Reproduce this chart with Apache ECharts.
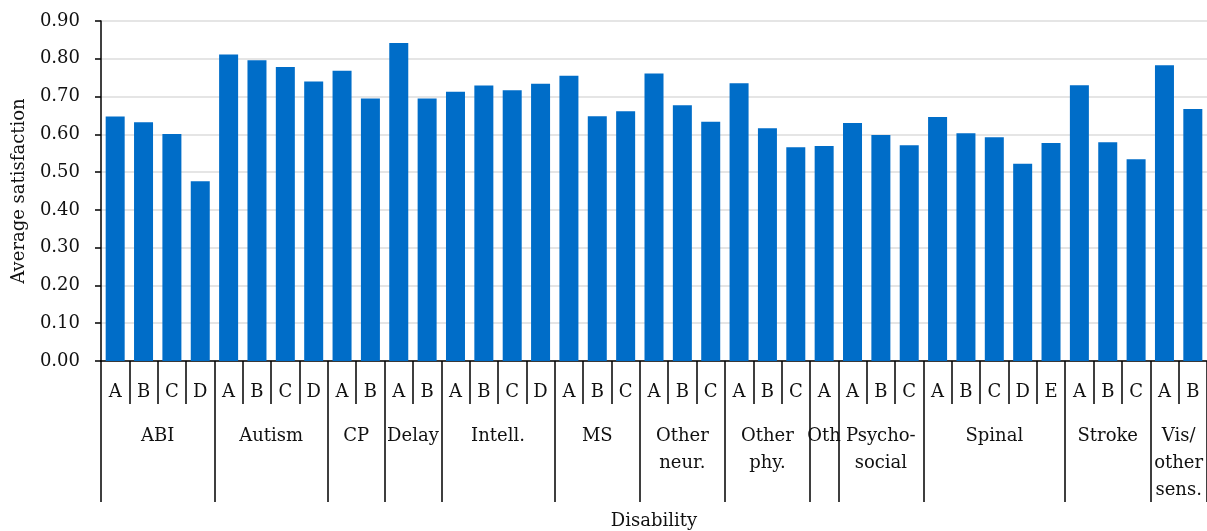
<!DOCTYPE html>
<html>
<head>
<meta charset="utf-8">
<script src="https://cdn.jsdelivr.net/npm/echarts@6/dist/echarts.min.js"></script>
<style>
  html, body { margin: 0; padding: 0; background: #fff; }
  #chart { width: 1207px; height: 531px; }
</style>
</head>
<body>
<div id="chart"></div>
<script>
// Disability groups and how many sub-categories each one holds
const groups = ['ABI', 'Autism', 'CP', 'Delay', 'Intell.', 'MS', 'Other\nneur.', 'Other\nphy.', 'Oth', 'Psycho-\nsocial', 'Spinal', 'Stroke', 'Vis/\nother\nsens.'];
const groupSizes = [4, 4, 2, 2, 4, 3, 3, 3, 1, 3, 5, 3, 2];

// Sub-category labels, one per bar
const subLabels = [
  'A', 'B', 'C', 'D',
  'A', 'B', 'C', 'D',
  'A', 'B',
  'A', 'B',
  'A', 'B', 'C', 'D',
  'A', 'B', 'C',
  'A', 'B', 'C',
  'A', 'B', 'C',
  'A',
  'A', 'B', 'C',
  'A', 'B', 'C', 'D', 'E',
  'A', 'B', 'C',
  'A', 'B'
];

// Average satisfaction per bar
const satisfaction = [
  0.647, 0.632, 0.601, 0.476,
  0.811, 0.796, 0.778, 0.740,
  0.768, 0.695,
  0.842, 0.695,
  0.713, 0.729, 0.717, 0.734,
  0.755, 0.648, 0.661,
  0.761, 0.677, 0.633,
  0.735, 0.616, 0.566,
  0.569,
  0.630, 0.598, 0.571,
  0.646, 0.603, 0.592, 0.522, 0.577,
  0.730, 0.579, 0.534,
  0.783, 0.667
];

// Y-axis tick values
const yTicks = [0, 0.1, 0.2, 0.3, 0.4, 0.5, 0.6, 0.7, 0.8, 0.9];

// Group boundaries and midpoints on a 0..N scale shared with the category axis
const boundaries = [0];
groupSizes.forEach(n => boundaries.push(boundaries[boundaries.length - 1] + n));
const midpoints = groupSizes.map((n, i) => boundaries[i] + n / 2);

const FONT = 'DejaVu Serif';
const textStyle = { fontFamily: FONT, fontSize: 18, color: '#111' };

const chart = echarts.init(document.getElementById('chart'), null, { renderer: 'canvas' });

chart.setOption({
  animation: false,
  backgroundColor: '#fff',
  grid: { left: 101, right: 0, top: 21, bottom: 170, containLabel: false, outerBoundsMode: 'none' },
  xAxis: [
    {
      type: 'category',
      data: subLabels,
      position: 'bottom',
      boundaryGap: true,
      axisLine: { show: true, lineStyle: { color: '#000', width: 1.5 } },
      axisTick: { show: true, length: 43, interval: 0, lineStyle: { color: '#000', width: 1.5 } },
      axisLabel: Object.assign({ interval: 0, margin: 22 }, textStyle),
      splitLine: { show: false }
    },
    {
      type: 'value',
      position: 'bottom',
      min: 0,
      max: subLabels.length,
      name: 'Disability',
      nameLocation: 'middle',
      nameGap: 151,
      nameTextStyle: textStyle,
      axisLine: { show: false },
      axisTick: {
        show: true,
        length: 141,
        customValues: boundaries,
        lineStyle: { color: '#000', width: 1.5 }
      },
      axisLabel: Object.assign({
        customValues: midpoints,
        margin: 62,
        lineHeight: 27,
        align: 'center',
        formatter: function (v) {
          const i = midpoints.findIndex(m => Math.abs(m - v) < 1e-6);
          return i >= 0 ? groups[i] : '';
        }
      }, textStyle),
      splitLine: { show: false }
    }
  ],
  yAxis: {
    type: 'value',
    min: 0,
    max: 0.9,
    interval: 0.1,
    name: 'Average satisfaction',
    nameLocation: 'middle',
    nameGap: 73,
    nameRotate: 90,
    nameTextStyle: textStyle,
    axisLine: { show: true, lineStyle: { color: '#000', width: 1.5 } },
    axisTick: { show: true, inside: false, length: 6, lineStyle: { color: '#000', width: 1.5 } },
    axisLabel: Object.assign({
      margin: 21,
      customValues: yTicks,
      formatter: v => v.toFixed(2)
    }, textStyle),
    splitLine: { show: true, lineStyle: { color: '#dcdcdc', width: 1.5 } }
  },
  series: [
    {
      type: 'bar',
      data: satisfaction,
      barWidth: 19,
      itemStyle: { color: '#006dc8' },
      xAxisIndex: 0,
      yAxisIndex: 0
    }
  ]
});
</script>
</body>
</html>
